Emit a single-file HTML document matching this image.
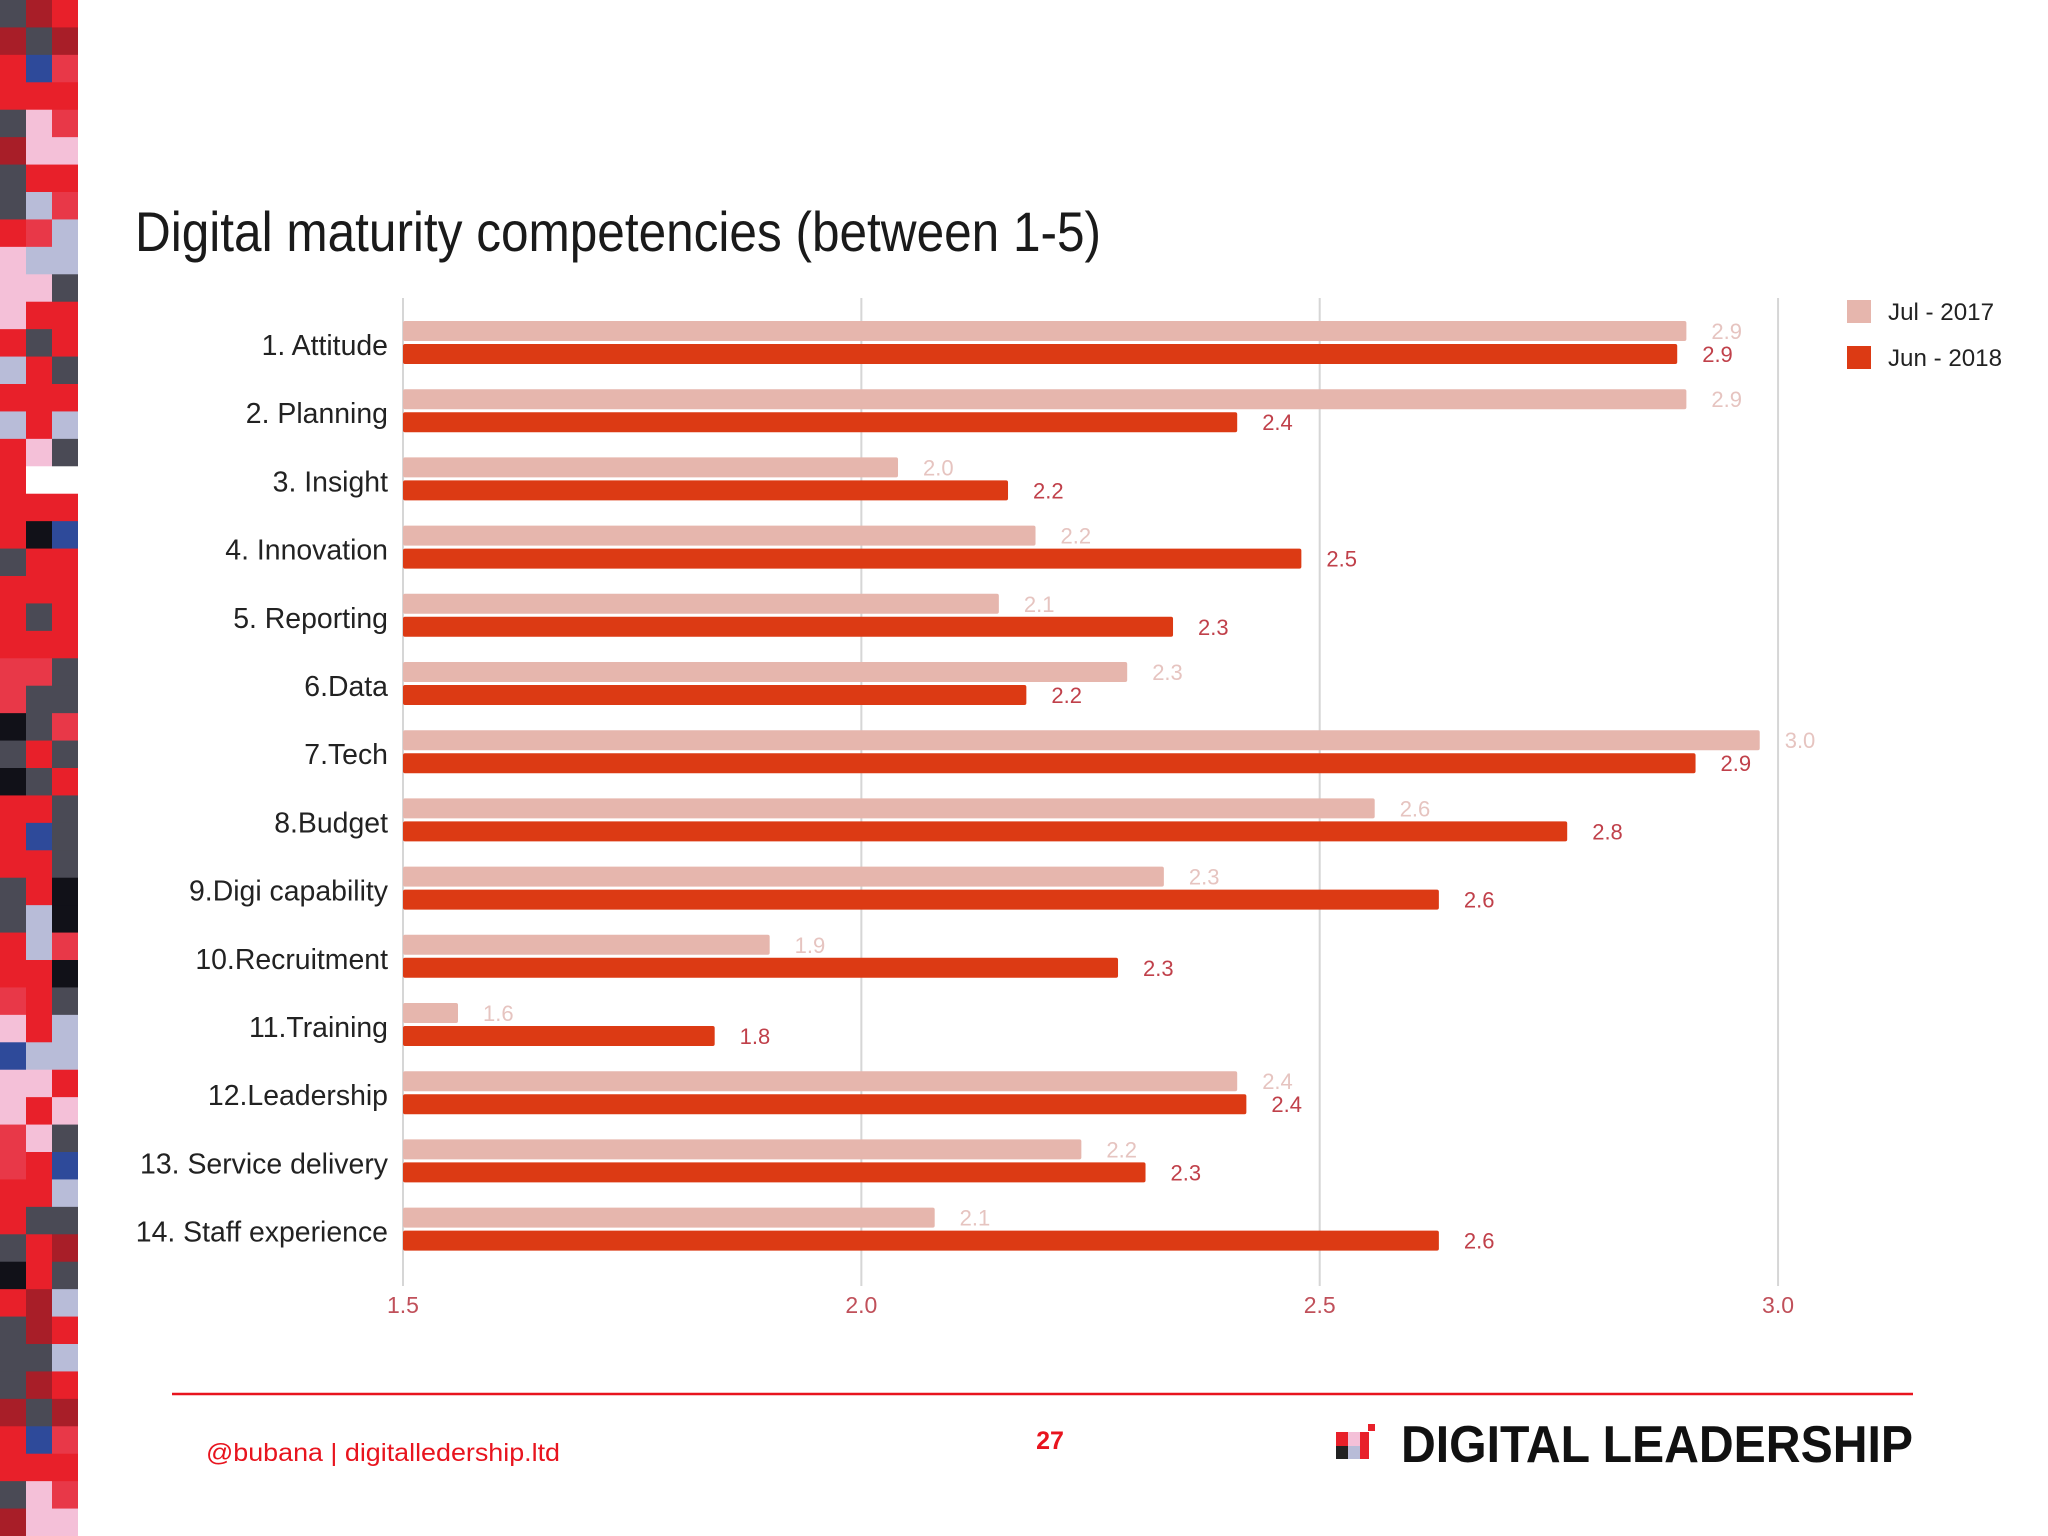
<!DOCTYPE html>
<html><head><meta charset="utf-8"><style>
html,body{margin:0;padding:0;background:#fff;}
svg{display:block;font-family:"Liberation Sans",sans-serif;}
</style></head><body>
<svg id="chart" width="2048" height="1536" viewBox="0 0 2048 1536" xmlns="http://www.w3.org/2000/svg">
<rect width="2048" height="1536" fill="#fff"/>
<g id="mosaic"></g>
<text x="135" y="251" font-size="56" fill="#1a1a1a" textLength="966" lengthAdjust="spacingAndGlyphs">Digital maturity competencies (between 1-5)</text>
<g id="grid"></g>
<g id="bars"></g>
<g id="labels"></g>
<g id="ticks"></g>
<g>
<rect x="1847" y="300" width="24" height="23" fill="#e6b6ad"/>
<text x="1888" y="320" font-size="24" fill="#222" textLength="106" lengthAdjust="spacingAndGlyphs">Jul - 2017</text>
<rect x="1847" y="346" width="24" height="23" fill="#dc3a14"/>
<text x="1888" y="366" font-size="24" fill="#222" textLength="114" lengthAdjust="spacingAndGlyphs">Jun - 2018</text>
</g>
<line x1="172" y1="1394" x2="1913" y2="1394" stroke="#e8141e" stroke-width="2.5"/>
<text x="206" y="1461" font-size="25" fill="#e8141e" textLength="354" lengthAdjust="spacingAndGlyphs">@bubana | digitalledership.ltd</text>
<text x="1050" y="1449" font-size="25" font-weight="bold" fill="#e8141e" text-anchor="middle">27</text>
<g>
<rect x="1336" y="1432" width="12" height="14" fill="#e8202a"/><rect x="1348" y="1432" width="12" height="14" fill="#f4c0d8"/><rect x="1360" y="1432" width="9" height="14" fill="#e8202a"/>
<rect x="1336" y="1446" width="12" height="13" fill="#222"/><rect x="1348" y="1446" width="12" height="13" fill="#b8bcd8"/><rect x="1360" y="1446" width="9" height="13" fill="#e8202a"/>
<rect x="1368" y="1424" width="7" height="7" fill="#e8202a"/>
</g>
<text x="1401" y="1462" font-size="52" font-weight="bold" fill="#111" textLength="512" lengthAdjust="spacingAndGlyphs">DIGITAL LEADERSHIP</text>
</svg>
<script>
const categories = ["1. Attitude","2. Planning","3. Insight","4. Innovation","5. Reporting","6.Data","7.Tech","8.Budget","9.Digi capability","10.Recruitment","11.Training","12.Leadership","13. Service delivery","14. Staff experience"];
const jul2017 = [2.90,2.90,2.04,2.19,2.15,2.29,2.98,2.56,2.33,1.90,1.56,2.41,2.24,2.08];
const jun2018 = [2.89,2.41,2.16,2.48,2.34,2.18,2.91,2.77,2.63,2.28,1.84,2.42,2.31,2.63];
const julLabels = ["2.9","2.9","2.0","2.2","2.1","2.3","3.0","2.6","2.3","1.9","1.6","2.4","2.2","2.1"];
const junLabels = ["2.9","2.4","2.2","2.5","2.3","2.2","2.9","2.8","2.6","2.3","1.8","2.4","2.3","2.6"];
const xTicks = [1.5,2.0,2.5,3.0];
const xTickLabels = ["1.5","2.0","2.5","3.0"];

const NS="http://www.w3.org/2000/svg";
const x0=403, xMin=1.5, pxPer=916.7;
function xScale(v){return x0+(v-xMin)*pxPer;}
function yBand(i){return 345+i*68.2;}
function mk(tag,attrs,parent){const e=document.createElementNS(NS,tag);for(const k in attrs)e.setAttribute(k,attrs[k]);parent.appendChild(e);return e;}

const grid=document.getElementById('grid');
const ticks=document.getElementById('ticks');
xTicks.forEach((t,i)=>{
  const gl=mk('line',{x1:xScale(t),x2:xScale(t),y1:298,y2:1286,stroke:'#d6d6d6','stroke-width':2},grid);
  
  
  const tl=mk('text',{x:xScale(t),y:1313,'font-size':23,fill:'#c0505a','text-anchor':'middle'},ticks);
  tl.textContent=xTickLabels[i];
  
  
});

const bars=document.getElementById('bars');
const labels=document.getElementById('labels');
categories.forEach((c,i)=>{
  const yc=yBand(i);
  const b1=mk('rect',{x:x0,y:yc-24,width:xScale(jul2017[i])-x0,height:20,rx:2,fill:'#e6b6ad'},bars);
  
  
  const b2=mk('rect',{x:x0,y:yc-1,width:xScale(jun2018[i])-x0,height:20,rx:2,fill:'#dc3a14'},bars);
  
  
  const v1=mk('text',{x:xScale(jul2017[i])+25,y:yc-6,'font-size':22,fill:'#e6c4c0'},bars);
  v1.textContent=julLabels[i];
  
  
  const v2=mk('text',{x:xScale(jun2018[i])+25,y:yc+17,'font-size':22,fill:'#c0404a'},bars);
  v2.textContent=junLabels[i];
  
  
  const l=mk('text',{x:388,y:yc+10,'font-size':29,fill:'#222','text-anchor':'end',transform:'translate(388 0) scale(0.98 1) translate(-388 0)'},labels);
  l.textContent=c;
  
  
});

const pal={R:'#e8202a',D:'#4a4a55',K:'#111118',B:'#2e4a9a',P:'#f4c0d8',L:'#b8bcd8',M:'#a81e28',W:'#ffffff',S:'#e83848'};
const rows="DMR MDM RBS RRR DPS MPP DRR DLS RSL PLL PPD PRR RDR LRD RRR LRL RPD RWW RRR RKB DRR RRR RDR RRR SSD SDD KDS DRD KDR RRD RBD RRD DRK DLK RLS RRK SRD PRL BLL PPR PRP SPD SRB RRL RDD DRM KRD RML DMR DDL DMR MDM RBS RRR DPS MPP".split(' ');
const mos=document.getElementById('mosaic');
const rh=1536/rows.length;
rows.forEach((r,ri)=>{for(let ci=0;ci<3;ci++){mk('rect',{x:ci*26,y:ri*rh,width:26,height:rh+0.5,fill:pal[r[ci]]},mos);}});
</script>
</body></html>
